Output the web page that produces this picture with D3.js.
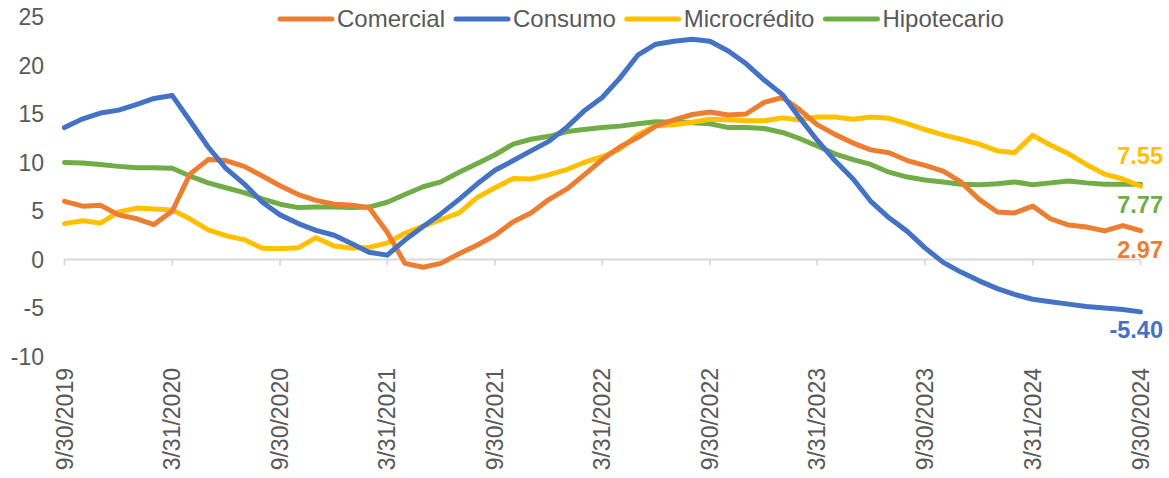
<!DOCTYPE html>
<html><head><meta charset="utf-8">
<script src="https://cdn.jsdelivr.net/npm/d3@7"></script>
<style>
html,body{margin:0;padding:0;background:#fff;}
text{font-family:"Liberation Sans",Arial,sans-serif;}
</style></head>
<body><svg id="chart" width="1169" height="478"></svg>
<script>
// ---- data ----
const seriesNames = ["Comercial","Consumo","Microcrédito","Hipotecario"];
const seriesColors = ["#ED7D31","#4472C4","#FFC000","#70AD47"];
const startDate = "2019-09-30"; // monthly, end of month, 61 points to 2024-09-30
const comercial = [6.0,5.5,5.6,4.6,4.2,3.6,5.0,8.8,10.3,10.2,9.6,8.6,7.6,6.7,6.1,5.7,5.6,5.35,2.8,-0.4,-0.8,-0.4,0.6,1.5,2.5,3.9,4.8,6.2,7.3,8.7,10.3,11.6,12.6,13.75,14.4,14.95,15.2,14.9,15.0,16.2,16.7,15.5,13.9,12.9,12.0,11.3,11.0,10.2,9.7,9.1,8.0,6.2,4.9,4.8,5.5,4.2,3.55,3.35,2.95,3.5,2.97];
const consumo = [13.6,14.5,15.1,15.4,16.0,16.6,16.9,14.3,11.6,9.4,7.8,5.9,4.6,3.7,3.0,2.5,1.6,0.75,0.45,2.0,3.4,4.7,6.2,7.8,9.2,10.2,11.2,12.2,13.7,15.3,16.7,18.7,21.1,22.2,22.5,22.7,22.5,21.5,20.2,18.5,17.0,14.7,12.3,10.2,8.3,6.0,4.3,2.9,1.2,-0.3,-1.3,-2.2,-3.0,-3.6,-4.1,-4.35,-4.6,-4.85,-5.0,-5.15,-5.40];
const microcredito = [3.7,4.0,3.75,4.9,5.3,5.2,5.1,4.2,3.05,2.45,2.05,1.15,1.1,1.2,2.25,1.4,1.15,1.25,1.7,2.7,3.45,4.1,4.8,6.4,7.4,8.35,8.3,8.75,9.3,10.0,10.6,11.4,12.9,13.8,13.9,14.15,14.45,14.4,14.3,14.3,14.6,14.4,14.7,14.7,14.45,14.7,14.55,14.0,13.4,12.85,12.4,11.9,11.2,11.0,12.8,11.8,10.9,9.8,8.8,8.3,7.55];
const hipotecario = [10.0,9.95,9.8,9.6,9.45,9.45,9.4,8.6,7.9,7.4,6.9,6.25,5.7,5.35,5.4,5.4,5.35,5.4,5.9,6.7,7.5,8.0,9.0,9.9,10.8,11.9,12.4,12.7,13.2,13.4,13.6,13.75,14.0,14.2,14.15,14.1,14.0,13.6,13.6,13.5,13.1,12.5,11.7,10.9,10.3,9.8,9.0,8.5,8.2,8.0,7.75,7.7,7.8,8.0,7.7,7.9,8.1,7.9,7.75,7.75,7.77];
const endLabels = ["2.97","-5.40","7.55","7.77"];
const yTicks = [-10,-5,0,5,10,15,20,25];
const xTickLabels = ["9/30/2019","3/31/2020","9/30/2020","3/31/2021","9/30/2021","3/31/2022","9/30/2022","3/31/2023","9/30/2023","3/31/2024","9/30/2024"];

// ---- build ----
const allSeries = [comercial, consumo, microcredito, hipotecario];
const parse = d3.timeParse("%Y-%m-%d");
const parseTick = d3.timeParse("%m/%d/%Y");
const s0 = parse(startDate);
const dates = comercial.map((_, i) => new Date(s0.getFullYear(), s0.getMonth() + 1 + i, 0));

const svg = d3.select("#chart");
const x = d3.scaleTime().domain([dates[0], dates[dates.length-1]]).range([64.5, 1140.5]);
const y = d3.scaleLinear().domain([-10, 25]).range([356.5, 17]);
const textColor = "#595959";
const fs = 23;

// y tick labels
svg.append("g").selectAll("text").data(yTicks).join("text")
  .attr("x", 44).attr("y", d => y(d)).attr("dy", "0.35em")
  .attr("text-anchor", "end").attr("font-size", fs).attr("fill", textColor)
  .text(d => d);

// x axis line at zero with ticks
const tickDates = xTickLabels.map(parseTick);
const ax = svg.append("g");
ax.append("line").attr("x1", x(tickDates[0])).attr("x2", x(tickDates[tickDates.length-1]))
  .attr("y1", y(0)).attr("y2", y(0)).attr("stroke", "#d9d9d9").attr("stroke-width", 1.8);
ax.selectAll("line.t").data(tickDates).join("line").attr("class","t")
  .attr("x1", d => x(d)).attr("x2", d => x(d))
  .attr("y1", y(0)).attr("y2", y(0) + 6).attr("stroke", "#d9d9d9").attr("stroke-width", 1.8);

// x tick labels (rotated)
svg.append("g").selectAll("text").data(xTickLabels).join("text")
  .attr("transform", (d) => `translate(${x(parseTick(d))},368) rotate(-90)`)
  .attr("dy", "0.35em").attr("text-anchor", "end")
  .attr("font-size", fs).attr("fill", textColor)
  .text(d => d);

// lines
const line = d3.line().x((d, i) => x(dates[i])).y(d => y(d)).curve(d3.curveLinear);
const drawOrder = [3, 2, 0, 1];
const lg = svg.append("g");
drawOrder.forEach(k => {
  lg.append("path").datum(allSeries[k]).attr("d", line)
    .attr("fill", "none").attr("stroke", seriesColors[k]).attr("stroke-width", 5)
    .attr("stroke-linejoin", "round").attr("stroke-linecap", "round");
});

// end labels
const endLabelY = [250, 330, 156, 205];
svg.append("g").selectAll("text").data(endLabels).join("text")
  .attr("x", 1163).attr("y", (d, i) => endLabelY[i]).attr("dy", "0.35em")
  .attr("text-anchor", "end").attr("font-size", 23.5).attr("font-weight", "bold")
  .attr("fill", (d, i) => seriesColors[i])
  .text(d => d);

// legend
const leg = svg.append("g");
let lx = 280;
seriesNames.forEach((name, i) => {
  leg.append("line").attr("x1", lx).attr("x2", lx + 52).attr("y1", 19).attr("y2", 19)
    .attr("stroke", seriesColors[i]).attr("stroke-width", 5).attr("stroke-linecap", "round");
  const t = leg.append("text").attr("x", lx + 57).attr("y", 19).attr("dy", "0.35em")
    .attr("font-size", 24).attr("fill", textColor).text(name);
  lx += 57 + t.node().getComputedTextLength() + 11;
});
</script></body></html>
